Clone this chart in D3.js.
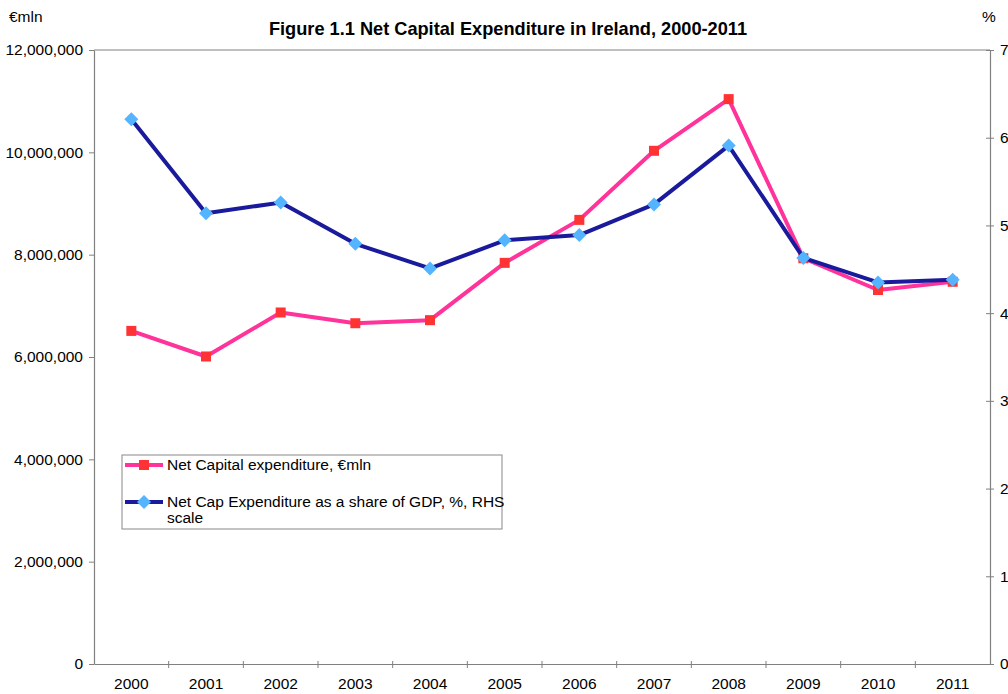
<!DOCTYPE html>
<html><head><meta charset="utf-8">
<script src="https://cdn.jsdelivr.net/npm/d3@7"></script>
<style>body{margin:0;background:#fff;} svg{display:block;font-family:"Liberation Sans",Arial,sans-serif;}</style>
</head><body>
<svg id="c" width="1008" height="694"></svg>
<script>
const years = ["2000","2001","2002","2003","2004","2005","2006","2007","2008","2009","2010","2011"];
const netCapEx = [6510000,6010000,6870000,6660000,6720000,7840000,8680000,10030000,11040000,7930000,7310000,7470000];
const shareGDP = [6.21,5.14,5.26,4.79,4.51,4.83,4.89,5.24,5.91,4.63,4.35,4.38];
const leftTicks = [0,2000000,4000000,6000000,8000000,10000000,12000000];
const rightTicks = [0,1,2,3,4,5,6,7];
const seriesNames = ["Net Capital expenditure, €mln","Net Cap Expenditure as a share of GDP, %, RHS","scale"];

const svg = d3.select("#c");
const L=94, R=990, T=50, B=664;
const x = d3.scaleBand().domain(years).range([L,R]);
const yL = d3.scaleLinear().domain([0,12000000]).range([B,T]);
const yR = d3.scaleLinear().domain([0,7]).range([B,T]);
const axisCol="#808080";
const FS = 15.5;

svg.append("text").attr("x",508).attr("y",35).attr("text-anchor","middle")
  .attr("font-size",18.2).attr("font-weight","bold").text("Figure 1.1 Net Capital Expenditure in Ireland, 2000-2011");
svg.append("text").attr("x",9).attr("y",22).attr("font-size",FS).text("€mln");
svg.append("text").attr("x",982).attr("y",22).attr("font-size",FS).text("%");

// frame top
svg.append("line").attr("x1",L).attr("x2",R).attr("y1",T).attr("y2",T).attr("stroke",axisCol);

// left axis
const gl = svg.append("g").attr("transform",`translate(${L},0)`)
  .call(d3.axisLeft(yL).tickValues(leftTicks).tickSize(5).tickSizeOuter(0).tickPadding(6).tickFormat(d3.format(",")));
// right axis
const gr = svg.append("g").attr("transform",`translate(${R},0)`)
  .call(d3.axisRight(yR).tickValues(rightTicks).tickSize(4).tickSizeOuter(0).tickPadding(6).tickFormat(d3.format("d")));
gr.selectAll(".tick line").attr("x1",-4).attr("x2",4);
// bottom axis
const gb = svg.append("g").attr("transform",`translate(0,${B})`)
  .call(d3.axisBottom(x).tickSize(0).tickPadding(14));
const bounds = years.slice(1).map(y=>x(y));
gb.selectAll(".bt").data(bounds).enter().append("line").attr("class","bt")
  .attr("x1",d=>d).attr("x2",d=>d).attr("y1",-3).attr("y2",4).attr("stroke",axisCol);

[gl,gr,gb].forEach(g=>{
  g.selectAll(".domain").attr("stroke",axisCol).attr("stroke-width",1.2);
  g.selectAll(".tick line").attr("stroke",axisCol);
  g.selectAll("text").attr("font-size",FS).attr("fill","#000").attr("font-family","Liberation Sans, Arial, sans-serif");
});

const cx = d=>x(d)+x.bandwidth()/2;
const pinkLine="#FF3399", pinkMark="#FF3333", blueLine="#1A1A9C", blueMark="#55B4FF";

const lineL = d3.line().x((d,i)=>cx(years[i])).y(d=>yL(d));
svg.append("path").datum(netCapEx).attr("d",lineL).attr("fill","none").attr("stroke",pinkLine).attr("stroke-width",4).attr("stroke-linejoin","round");
svg.selectAll(".sq").data(netCapEx).enter().append("rect")
  .attr("x",(d,i)=>cx(years[i])-5).attr("y",d=>yL(d)-5).attr("width",10).attr("height",10).attr("fill",pinkMark);

const lineR = d3.line().x((d,i)=>cx(years[i])).y(d=>yR(d));
svg.append("path").datum(shareGDP).attr("d",lineR).attr("fill","none").attr("stroke",blueLine).attr("stroke-width",4).attr("stroke-linejoin","round");
const dia = "M0,-7L7,0L0,7L-7,0Z";
svg.selectAll(".di").data(shareGDP).enter().append("path")
  .attr("d",dia).attr("transform",(d,i)=>`translate(${cx(years[i])},${yR(d)})`).attr("fill",blueMark);

// legend
const lg = svg.append("g");
lg.append("rect").attr("x",122).attr("y",455).attr("width",380).attr("height",74).attr("fill","#fff").attr("stroke","#888").attr("stroke-width",1);
lg.append("line").attr("x1",125).attr("x2",163).attr("y1",465).attr("y2",465).attr("stroke",pinkLine).attr("stroke-width",4);
lg.append("rect").attr("x",139).attr("y",460).attr("width",10).attr("height",10).attr("fill",pinkMark);
lg.append("text").attr("x",167).attr("y",470).attr("font-size",FS).text(seriesNames[0]);
lg.append("line").attr("x1",125).attr("x2",163).attr("y1",502).attr("y2",502).attr("stroke",blueLine).attr("stroke-width",4);
lg.append("path").attr("d",dia).attr("transform","translate(144,502)").attr("fill",blueMark);
lg.append("text").attr("x",167).attr("y",507).attr("font-size",FS).text(seriesNames[1]);
lg.append("text").attr("x",167).attr("y",523).attr("font-size",FS).text(seriesNames[2]);
</script>
</body></html>
